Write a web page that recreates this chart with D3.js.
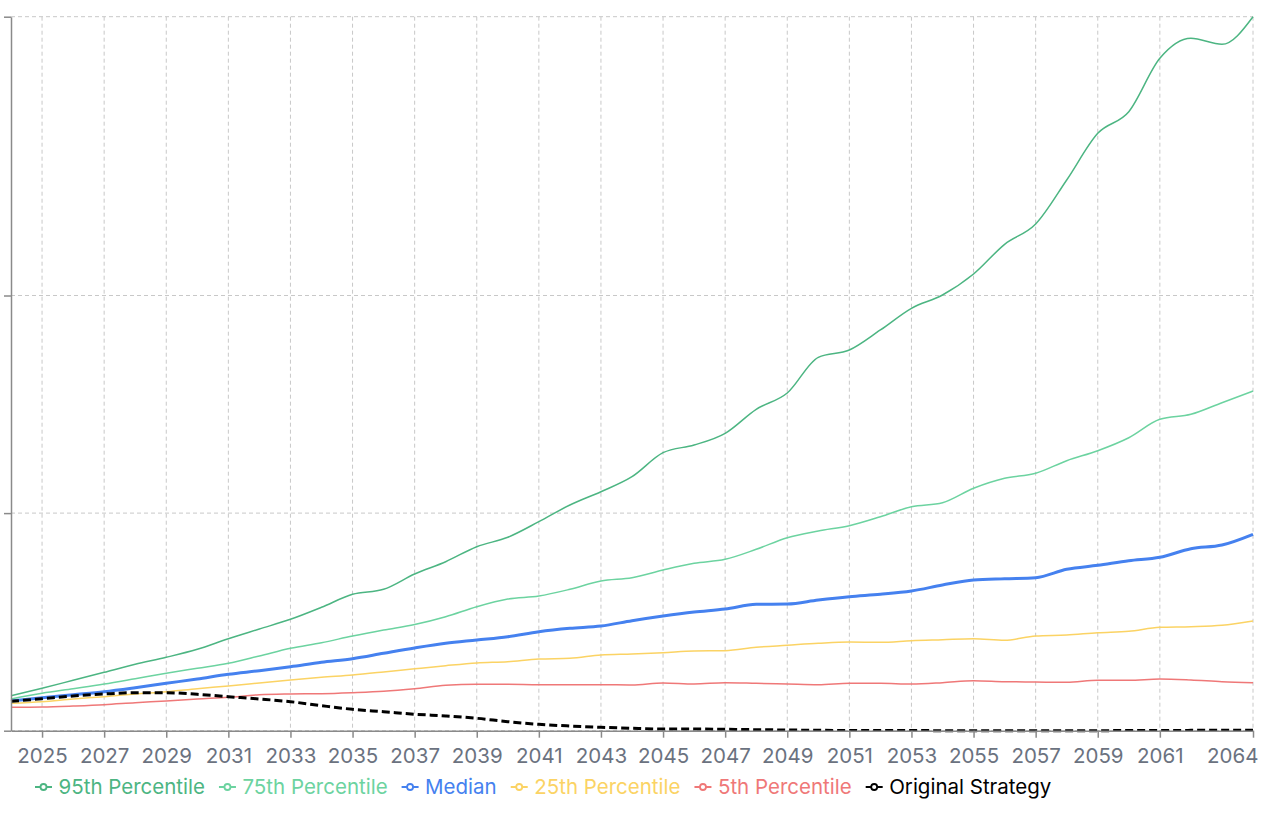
<!DOCTYPE html>
<html>
<head>
<meta charset="utf-8">
<script src="https://cdn.jsdelivr.net/npm/d3@7"></script>
<style>
  html, body { margin: 0; padding: 0; background: #ffffff; }
  svg { display: block; font-family: Inter, "Noto Sans", sans-serif; }
</style>
</head>
<body>
<svg id="chart" width="1278" height="838"></svg>
<script>
// ---- DATA (portfolio value, thousands) ----
const years = d3.range(2024, 2065);
const p95 = [160.8,194.9,231.6,268.4,305.1,337.3,374.1,422.8,467.4,512.0,567.1,626.8,649.8,720.1,776.7,845.6,888.8,960.5,1037.2,1098.3,1167.3,1277.6,1313.0,1366.7,1477.0,1551.9,1716.0,1749.5,1841.5,1941.2,2002.3,2098.8,2235.3,2328.6,2530.8,2745.4,2844.7,3090.1,3182.0,3154.4,3281.3];
const p75 = [145.7,171.9,193.0,214.6,239.0,263.8,286.8,309.7,343.3,378.7,404.4,435.2,462.8,488.1,523.9,569.9,605.2,619.0,649.8,688.0,703.1,738.5,769.3,787.7,833.6,887.0,917.7,942.1,983.5,1029.4,1047.8,1114.0,1159.9,1182.9,1240.8,1286.8,1346.5,1431.1,1454.0,1507.4,1561.1];
const median = [136.5,151.7,165.4,179.2,197.6,217.8,237.6,259.2,275.7,294.1,314.3,330.9,355.7,380.1,401.7,416.8,432.0,455.0,470.6,481.2,505.5,527.1,545.5,559.3,580.9,582.3,600.6,615.8,626.8,642.0,669.6,692.6,698.5,703.1,741.7,760.1,781.3,796.9,836.4,853.4,902.6];
const p25 = [125.9,133.3,145.7,156.3,168.7,179.2,193.0,205.4,219.2,233.0,245.4,256.0,269.8,284.5,298.7,311.1,317.1,329.5,332.7,347.9,352.5,358.5,366.3,367.6,383.3,392.5,401.7,407.6,406.3,413.6,418.2,422.8,415.4,435.2,439.8,450.4,456.8,475.2,477.9,484.4,504.1];
const p5 = [107.5,108.9,113.5,119.5,128.7,136.5,145.7,153.5,165.4,168.7,170.0,174.6,181.1,193.0,208.6,213.2,213.2,211.4,211.4,211.4,210.0,219.2,214.6,220.6,217.8,214.6,211.4,217.8,217.8,214.6,220.6,229.8,225.2,223.8,222.4,231.6,231.6,237.6,233.0,225.2,220.6];
const original = [135.1,147.1,159.5,168.7,174.6,174.6,167.3,156.3,145.7,133.3,114.9,98.3,87.3,75.8,67.6,57.0,41.4,29.4,21.6,15.6,11.0,7.8,7.8,6.4,4.6,3.2,1.8,1.0,0.5,0.5,0.3,0.3,0.3,0.3,0.3,0.3,0.5,0.8,1.5,2.0,2.5];

const seriesNames = ["95th Percentile","75th Percentile","Median","25th Percentile","5th Percentile","Original Strategy"];
const seriesValues = [p95, p75, median, p25, p5, original];
const seriesColors = ["#4cb582","#6cd3a0","#4581ef","#fbd364","#ef7878","#000000"];
const seriesWidths = [1.5, 1.5, 3, 1.5, 1.5, 3];
const seriesDash = [null, null, null, null, null, "8 4"];

const xTickValues = [2025,2027,2029,2031,2033,2035,2037,2039,2041,2043,2045,2047,2049,2051,2053,2055,2057,2059,2061,2064];
const yTickValues = [0, 1000, 2000];

// ---- LAYOUT ----
const svg = d3.select("#chart");
const mLeft = 11, mRight = 1253, mTop = 16.7, mBottom = 730.7;

const x = d3.scaleLinear().domain([2024, 2064]).range([mLeft, mRight]);
const yMax = d3.max(p95);
const y = d3.scaleLinear().domain([0, yMax]).range([mBottom, mTop]);
const yTicksAll = yTickValues.concat([yMax]);

// grid
const grid = svg.append("g");
grid.selectAll("line.v").data(xTickValues).join("line").attr("class", "v")
  .attr("x1", d => x(d)).attr("x2", d => x(d))
  .attr("y1", mTop).attr("y2", mBottom)
  .attr("stroke", "#c8c8c8").attr("stroke-width", 1).attr("stroke-dasharray", "4 3");
grid.selectAll("line.h").data(yTicksAll).join("line").attr("class", "h")
  .attr("x1", mLeft).attr("x2", mRight)
  .attr("y1", d => y(d)).attr("y2", d => y(d))
  .attr("stroke", "#c8c8c8").attr("stroke-width", 1).attr("stroke-dasharray", "4 3");

// lines
const line = d3.line().curve(d3.curveMonotoneX);
const gLines = svg.append("g");
seriesValues.forEach((vals, i) => {
  gLines.append("path")
    .attr("d", line(vals.map((v, j) => [x(years[j]), y(v)])))
    .attr("fill", "none")
    .attr("stroke", seriesColors[i])
    .attr("stroke-width", seriesWidths[i])
    .attr("stroke-dasharray", seriesDash[i]);
});

// axes
const axisColor = "#8a8a8a";
const xAxis = d3.axisBottom(x).tickValues(xTickValues).tickFormat(d3.format("d")).tickSize(7).tickPadding(6).tickSizeOuter(0);
const gx = svg.append("g").attr("transform", `translate(0,${mBottom})`).call(xAxis);
gx.select(".domain").attr("stroke", axisColor).attr("stroke-width", 1.5);
gx.selectAll(".tick line").attr("stroke", axisColor).attr("stroke-width", 1.5);
gx.selectAll(".tick text")
  .attr("fill", "#6b7280").attr("font-size", "20.5px").attr("font-family", "Inter, sans-serif")
  .attr("dy", "0.95em");
gx.selectAll(".tick").filter(d => d === 2064).select("text")
  .attr("text-anchor", "end").attr("dx", "5");

const yAxis = d3.axisLeft(y).tickValues(yTicksAll).tickFormat("").tickSize(7).tickSizeOuter(0);
const gy = svg.append("g").attr("transform", `translate(${mLeft},0)`).call(yAxis);
gy.select(".domain").attr("stroke", axisColor).attr("stroke-width", 1.5);
gy.selectAll(".tick line").attr("stroke", axisColor).attr("stroke-width", 1.5);

// legend
const legend = svg.append("g");
let lx = 35;
const ly = 787;
seriesNames.forEach((name, i) => {
  const g = legend.append("g");
  g.append("line").attr("x1", lx).attr("x2", lx + 17).attr("y1", ly).attr("y2", ly)
    .attr("stroke", seriesColors[i]).attr("stroke-width", 2);
  g.append("circle").attr("cx", lx + 8.5).attr("cy", ly).attr("r", 3)
    .attr("fill", "#fff").attr("stroke", seriesColors[i]).attr("stroke-width", 1.8);
  const t = g.append("text").attr("x", lx + 23.5).attr("y", ly + 7)
    .attr("fill", seriesColors[i]).attr("font-size", "20.5px").attr("font-family", "Inter, sans-serif")
    .text(name);
  const w = t.node().getComputedTextLength();
  lx = lx + 23.5 + w + 14;
});
</script>
</body>
</html>
